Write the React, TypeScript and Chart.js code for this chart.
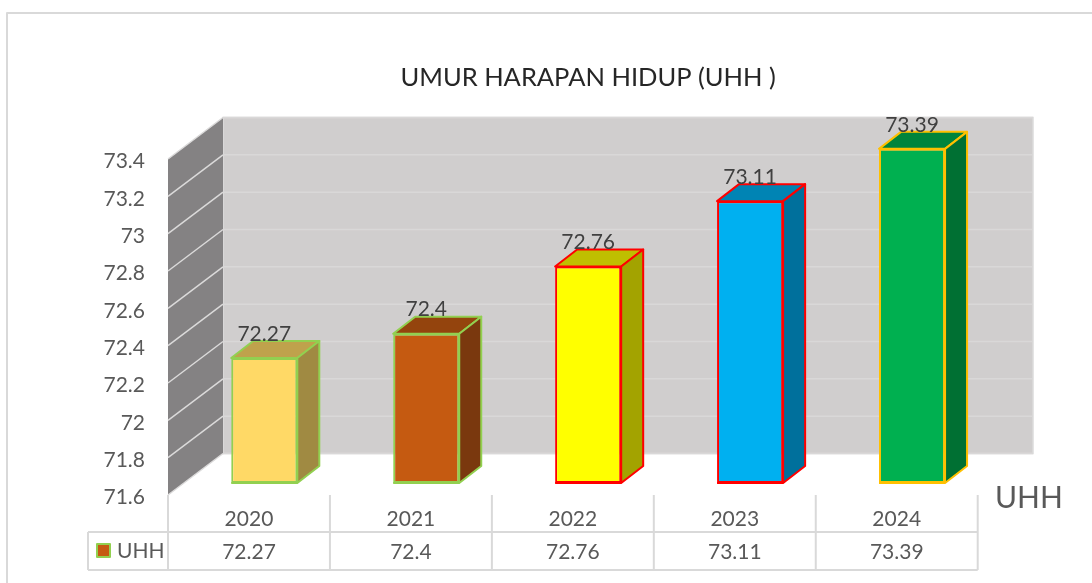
import React, { useEffect, useRef } from "react";
import { Chart, registerables } from "chart.js";

Chart.register(...registerables);

const titleText = "UMUR HARAPAN HIDUP (UHH )";
const seriesName = "UHH";
const categories = ["2020", "2021", "2022", "2023", "2024"];
const values = [72.27, 72.4, 72.76, 73.11, 73.39];
const tickLabels = ["71.6", "71.8", "72", "72.2", "72.4", "72.6", "72.8", "73", "73.2", "73.4"];
const frontColors = ["#FFD966", "#C55A11", "#FFFF00", "#00B0F0", "#00B050"];
const topColors = ["#BFA24C", "#94440D", "#BFBF00", "#0084B4", "#00843C"];
const sideColors = ["#A08A42", "#7A380E", "#A3A300", "#00709C", "#007033"];
const borderColors = ["#92D050", "#92D050", "#FF0000", "#FF0000", "#FFC000"];

const FONT = "Lato";
const LINE = "#D9D9D9";
const SHIFT_FRONT = 15.3;

const scene = {
  id: "scene3d",
  beforeDatasetsDraw(chart: any) {
    const { ctx, scales } = chart;
    const y = scales.y;
    const x = scales.x;
    const frontL = x.left - SHIFT_FRONT;
    const backL = x.left + 39.7;
    const backR = x.right + 40;
    const fy = (v: number) => y.getPixelForValue(v) + 12;
    const by = (v: number) => y.getPixelForValue(v) - 29.5;
    const lo = y.min;
    const hi = y.max;
    ctx.save();
    // back wall
    ctx.fillStyle = "#D0CECE";
    ctx.fillRect(backL, by(hi), backR - backL, by(lo) - by(hi));
    ctx.strokeStyle = "#DCDBDB";
    ctx.lineWidth = 1.5;
    ctx.strokeRect(backL, by(hi), backR - backL, by(lo) - by(hi));
    // side wall
    ctx.fillStyle = "#848283";
    ctx.beginPath();
    ctx.moveTo(frontL, fy(lo));
    ctx.lineTo(backL, by(lo));
    ctx.lineTo(backL, by(hi));
    ctx.lineTo(frontL, fy(hi));
    ctx.closePath();
    ctx.fill();
    // grid lines
    ctx.lineWidth = 1.5;
    y.ticks.forEach((t: any) => {
      ctx.strokeStyle = "#D9D8D8";
      ctx.beginPath();
      ctx.moveTo(backL, by(t.value));
      ctx.lineTo(backR, by(t.value));
      ctx.stroke();
      ctx.strokeStyle = "#DBDADA";
      ctx.beginPath();
      ctx.moveTo(frontL, fy(t.value));
      ctx.lineTo(backL, by(t.value));
      ctx.stroke();
    });
    ctx.restore();
  },
  afterDatasetsDraw(chart: any) {
    const { ctx, scales } = chart;
    const x = scales.x;
    const meta = chart.getDatasetMeta(0);
    const dx = 22;
    const dy = 17;
    ctx.save();
    ctx.lineJoin = "round";
    meta.data.forEach((bar: any, i: number) => {
      const p = bar.getProps(["x", "y", "base", "width"], true);
      const l = p.x - p.width / 2;
      const r = p.x + p.width / 2;
      ctx.strokeStyle = borderColors[i];
      ctx.lineWidth = 2;
      // bottom edge of the front face, which the bar's clip would cut in half
      ctx.beginPath();
      ctx.moveTo(l, p.base);
      ctx.lineTo(r, p.base);
      ctx.stroke();
      ctx.fillStyle = topColors[i];
      ctx.beginPath();
      ctx.moveTo(l, p.y);
      ctx.lineTo(l + dx, p.y - dy);
      ctx.lineTo(r + dx, p.y - dy);
      ctx.lineTo(r, p.y);
      ctx.closePath();
      ctx.fill();
      ctx.stroke();
      ctx.fillStyle = sideColors[i];
      ctx.beginPath();
      ctx.moveTo(r, p.y);
      ctx.lineTo(r + dx, p.y - dy);
      ctx.lineTo(r + dx, p.base - dy);
      ctx.lineTo(r, p.base);
      ctx.closePath();
      ctx.fill();
      ctx.stroke();
      // data label
      ctx.fillStyle = "#404040";
      ctx.font = `21px ${FONT}`;
      ctx.textAlign = "center";
      ctx.textBaseline = "middle";
      ctx.fillText(String(values[i]), p.x, p.y - 24);
    });

    // outer chart border
    ctx.strokeStyle = LINE;
    ctx.lineWidth = 2;
    ctx.beginPath();
    ctx.moveTo(7, chart.height);
    ctx.lineTo(7, 13);
    ctx.lineTo(chart.width, 13);
    ctx.stroke();

    // data table
    const left = x.left - SHIFT_FRONT;
    const cell = x.width / categories.length;
    const rowTop = 532;
    const rowBottom = 570;
    const keyLeft = 88;
    ctx.beginPath();
    ctx.moveTo(keyLeft, rowTop);
    ctx.lineTo(left + cell * categories.length, rowTop);
    ctx.moveTo(keyLeft, rowBottom);
    ctx.lineTo(left + cell * categories.length, rowBottom);
    ctx.moveTo(keyLeft, rowTop);
    ctx.lineTo(keyLeft, rowBottom);
    categories.concat("").forEach((_, i) => {
      ctx.moveTo(left + cell * i, 495);
      ctx.lineTo(left + cell * i, rowBottom);
    });
    ctx.stroke();
    ctx.fillStyle = "#595959";
    ctx.font = `21px ${FONT}`;
    ctx.textAlign = "center";
    ctx.textBaseline = "middle";
    values.forEach((v, i) => {
      ctx.fillText(String(v), left + cell * (i + 0.5), 552);
    });
    // legend key
    ctx.fillStyle = frontColors[1];
    ctx.strokeStyle = borderColors[0];
    ctx.lineWidth = 2;
    ctx.fillRect(97, 544, 13, 13);
    ctx.strokeRect(97, 544, 13, 13);
    ctx.fillStyle = "#595959";
    ctx.textAlign = "left";
    ctx.fillText(seriesName, 117, 551);
    // series axis label
    ctx.font = `30px ${FONT}`;
    ctx.fillText(seriesName, 995, 498);
    ctx.restore();
  },
};

export default function App() {
  const ref = useRef<HTMLCanvasElement>(null);
  useEffect(() => {
    const chart = new Chart(ref.current as HTMLCanvasElement, {
      type: "bar",
      data: {
        labels: categories,
        datasets: [
          {
            label: seriesName,
            data: values,
            base: 71.6,
            backgroundColor: frontColors,
            borderColor: borderColors,
            borderWidth: 2,
            borderSkipped: false,
            barPercentage: 0.408,
            categoryPercentage: 1,
          },
        ],
      },
      options: {
        responsive: false,
        animation: false,
        layout: { padding: { left: 0, right: 99, top: 0, bottom: 0 } },
        plugins: {
          legend: { display: false },
          tooltip: { enabled: false },
          title: {
            display: true,
            text: titleText,
            fullSize: false,
            color: "#262626",
            font: { family: FONT, size: 25.5, weight: "normal", lineHeight: 1.2 },
            padding: { top: 62, bottom: 54.4 },
          },
        },
        scales: {
          x: {
            grid: { display: false, drawTicks: false },
            border: { display: false },
            ticks: {
              color: "#595959",
              font: { family: FONT, size: 21 },
              labelOffset: -SHIFT_FRONT,
              padding: 24,
              maxRotation: 0,
            },
            afterFit: (s: any) => {
              s.height = 100;
            },
          },
          y: {
            min: 71.6,
            max: 73.4,
            grid: { display: false, drawTicks: false },
            border: { display: false },
            ticks: {
              stepSize: 0.2,
              color: "#595959",
              font: { family: FONT, size: 21 },
              padding: 38.3,
              labelOffset: 14.5,
              autoSkip: false,
              callback: (_v: any, i: number) => tickLabels[i],
            },
            afterFit: (s: any) => {
              s.width = 183.3;
            },
          },
        },
      },
      plugins: [scene],
    } as any);
    return () => chart.destroy();
  }, []);
  return (
    <div style={{ position: "absolute", left: 0, top: 0, width: 1092, height: 583, background: "#fff" }}>
      <canvas ref={ref} width={1092} height={583} style={{ display: "block" }} />
    </div>
  );
}
